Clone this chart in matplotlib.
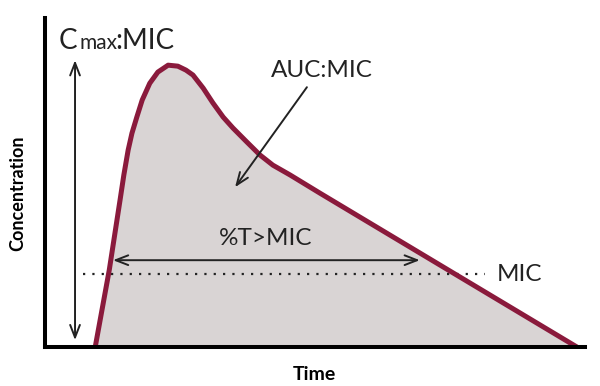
import numpy as np
import matplotlib
matplotlib.use("Agg")
import matplotlib.pyplot as plt

# concentration-time curve (arbitrary units)
times = [9.3, 11.9, 13.9, 14.6, 15.4, 16.1, 17.0, 18.0, 19.4, 20.9, 22.8,
         24.6, 26.1, 27.4, 29.3, 31.1, 33.0, 34.8, 37.4, 39.8, 42.2, 45.4,
         48.5, 50.9, 75.0, 98.5]
conc = [0.0, 23.4, 44.7, 52.3, 59.9, 65.0, 69.9, 75.1, 80.2, 83.6, 85.7,
        85.4, 84.2, 82.7, 78.7, 74.2, 69.9, 66.6, 62.3, 58.4, 55.3, 52.3,
        49.2, 46.8, 23.1, 0.0]
mic = 22.2
cmax_label = ["C", "max", ":MIC"]
auc_label = "AUC:MIC"
tmic_label = "%T>MIC"

FONT = "Lato"
RED = "#8a1a3c"
FILL = "#d9d4d4"
INK = "#222222"

fig = plt.figure(figsize=(6, 3.86), dpi=100)
ax = fig.add_axes([0.075, 0.101, 0.9, 0.852])
ax.set_xlim(0, 100)
ax.set_ylim(0, 100)

ax.fill_between(times, conc, 0, color=FILL, lw=0, zorder=1)
ax.plot(times, conc, color=RED, lw=3.6, solid_joinstyle="round",
        solid_capstyle="butt", zorder=3)

# MIC threshold
ax.plot([7.0, 81.5], [mic, mic], color=INK, lw=1.6,
        linestyle=(0, (1, 3.2)), zorder=2)
ax.text(83.7, mic, "MIC", fontsize=17.5, family=FONT, va="center", ha="left",
        color=INK)

# time above MIC
ax.annotate("", xy=(12.6, 26.4), xytext=(69.4, 26.4),
            arrowprops=dict(arrowstyle="<->,head_length=0.9,head_width=0.35",
                            color=INK, lw=1.4, shrinkA=0, shrinkB=0),
            zorder=4)
ax.text(40.9, 33.0, tmic_label, fontsize=17.5, family=FONT, ha="center",
        va="center", color=INK)

# AUC
ax.text(51.3, 84.2, auc_label, fontsize=17.5, family=FONT, ha="center",
        va="center", color=INK)
ax.annotate("", xy=(35.2, 48.6), xytext=(48.5, 79.0),
            arrowprops=dict(arrowstyle="->,head_length=0.9,head_width=0.35",
                            color=INK, lw=1.4, shrinkA=0, shrinkB=0),
            zorder=4)

# Cmax
ax.annotate("", xy=(5.56, 87.2), xytext=(5.56, 2.1),
            arrowprops=dict(arrowstyle="<->,head_length=0.9,head_width=0.35",
                            color=INK, lw=1.4, shrinkA=0, shrinkB=0),
            clip_on=False)
ax.text(2.5, 90.6, cmax_label[0], fontsize=20, family=FONT, va="baseline",
        color=INK, clip_on=False)
ax.text(6.3, 90.6, cmax_label[1], fontsize=15, family=FONT, va="baseline",
        color=INK, clip_on=False)
ax.text(13.1, 90.6, cmax_label[2], fontsize=20, family=FONT, va="baseline",
        color=INK, clip_on=False)

for side in ["top", "right"]:
    ax.spines[side].set_visible(False)
for side in ["left", "bottom"]:
    ax.spines[side].set_linewidth(2.9)
    ax.spines[side].set_color("black")
    ax.spines[side].set_zorder(5)
ax.set_xticks([])
ax.set_yticks([])

fig.text(314 / 600, 1 - 374 / 386, "Time", fontsize=14, family=FONT,
         weight="bold", ha="center", va="center")
fig.text(18 / 600, 1 - 193 / 386, "Concentration", fontsize=13, family=FONT,
         weight="bold", rotation=90, ha="center", va="center")

fig.savefig("out.png", dpi=100, facecolor="white")
